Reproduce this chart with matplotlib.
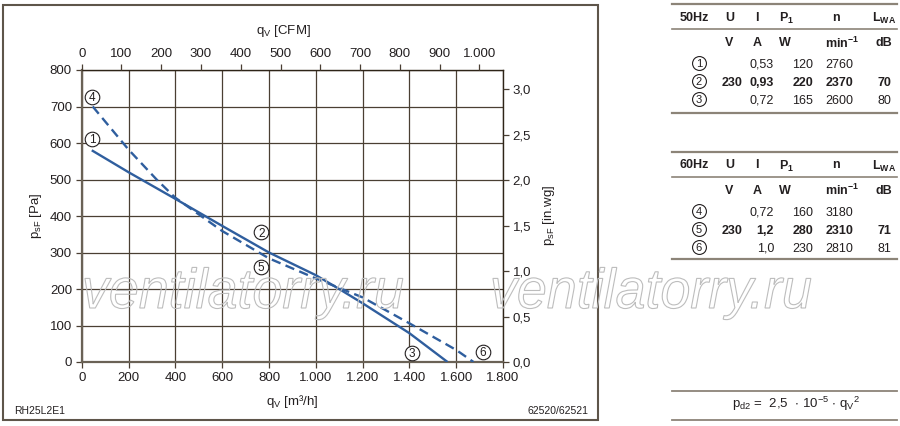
import matplotlib
matplotlib.use('Agg')
import matplotlib.pyplot as plt
from matplotlib.patches import Rectangle, PathPatch
from matplotlib.textpath import TextPath
from matplotlib.font_manager import FontProperties
from matplotlib.transforms import Affine2D

plt.rcParams['font.family'] = ['Liberation Sans', 'DejaVu Sans']
plt.rcParams['mathtext.default'] = 'regular'

# kennlinien
qv_50 = [43, 200, 400, 600, 800, 1000, 1100, 1200, 1400, 1563]
ps_50 = [580, 520, 447, 373, 300, 238, 200, 161, 79, 0]
qv_60 = [47, 200, 320, 400, 600, 800, 1000, 1200, 1400, 1600, 1674]
ps_60 = [700, 582, 500, 450, 359, 284, 229, 177, 106, 33, 0]

# betriebspunkte
point_ids = ['1', '2', '3', '4', '5', '6']
point_qv = [45, 768, 1410, 43, 767, 1715]
point_ps = [611, 355, 26, 727, 261, 27]

# achsen
x_ticks = [0, 200, 400, 600, 800, 1000, 1200, 1400, 1600, 1800]
x_labels = ['0', '200', '400', '600', '800', '1.000', '1.200', '1.400', '1.600', '1.800']
y_ticks = [0, 100, 200, 300, 400, 500, 600, 700, 800]
cfm_ticks = [0, 100, 200, 300, 400, 500, 600, 700, 800, 900, 1000]
cfm_labels = ['0', '100', '200', '300', '400', '500', '600', '700', '800', '900', '1.000']
inwg_ticks = [0.0, 0.5, 1.0, 1.5, 2.0, 2.5, 3.0]
inwg_labels = ['0,0', '0,5', '1,0', '1,5', '2,0', '2,5', '3,0']

# tabellen
u_50 = ['', '230', '']
i_50 = ['0,53', '0,93', '0,72']
p_50 = ['120', '220', '165']
n_50 = ['2760', '2370', '2600']
lwa_50 = ['', '70', '80']
u_60 = ['', '230', '']
i_60 = ['0,72', '1,2', '1,0']
p_60 = ['160', '280', '230']
n_60 = ['3180', '2310', '2810']
lwa_60 = ['', '71', '81']

blue = '#2f5e9e'
dark = '#2e2418'
ink = '#231f20'
fs = 9.5

fig = plt.figure(figsize=(9, 4.26), dpi=100)

# hintergrund-achse in pixelkoordinaten
bg = fig.add_axes([0, 0, 1, 1])
bg.set_xlim(0, 900)
bg.set_ylim(426, 0)
bg.axis('off')
bg.add_patch(Rectangle((3, 4.5), 595, 415.5, fill=False, ec='#5e554a', lw=1.5))

ax = fig.add_axes([81.7 / 900, 1 - 362 / 426, (503 - 81.7) / 900, 292 / 426])
ax.set_xlim(0, 1800)
ax.set_ylim(0, 800)
ax.set_xticks(x_ticks)
ax.set_xticklabels(x_labels)
ax.set_yticks(y_ticks)
ax.grid(True, color='#4a3f33', lw=0.9)
ax.set_axisbelow(True)
for s in ['left', 'bottom']:
    ax.spines[s].set_color('#6a6256')
    ax.spines[s].set_linewidth(1.6)
for s in ['top', 'right']:
    ax.spines[s].set_color(dark)
    ax.spines[s].set_linewidth(1.0)
ax.tick_params(direction='out', length=4, width=0.9, color='#4a3f33',
               labelsize=fs, labelcolor=ink, pad=3)

ax.plot(qv_50, ps_50, color=blue, lw=1.7, solid_capstyle='butt', zorder=3)
ax.plot(qv_60, ps_60, color=blue, lw=1.7, dashes=(4, 2.3), zorder=3)


def circled(a, x, y, txt, size, ms):
    # kreis mit ziffer, ziffer auf die kreismitte gesetzt
    a.plot(x, y, 'o', ms=ms, mfc='white', mec=ink, mew=0.8, zorder=5, clip_on=False)
    a.annotate(txt, (x, y), xytext=(0, -0.36 * size), textcoords='offset points',
               ha='center', va='baseline', fontsize=size, color=ink, zorder=6,
               annotation_clip=False)


for pid, x, y in zip(point_ids, point_qv, point_ps):
    circled(ax, x, y, pid, 8.5, 10.5)

# rechte achse in.wg
ax2 = ax.twinx()
ax2.set_ylim(0, 800 / 249.09)
ax2.set_yticks(inwg_ticks)
ax2.set_yticklabels(inwg_labels)
for s in ax2.spines.values():
    s.set_visible(False)
ax2.tick_params(direction='out', length=4, width=0.9, color='#4a3f33',
                labelsize=fs, labelcolor=ink, pad=3)

# obere achse CFM
ax3 = ax.twiny()
ax3.set_xlim(0, 1800 / 1.699)
ax3.set_xticks(cfm_ticks)
ax3.set_xticklabels(cfm_labels)
for s in ax3.spines.values():
    s.set_visible(False)
ax3.tick_params(direction='out', length=4, width=0.9, color='#4a3f33',
                labelsize=fs, labelcolor=ink, pad=3)

# achsenbeschriftungen
bg.text(283, 31, 'q$_V$ [CFM]', ha='center', va='center', fontsize=fs, color=ink)
bg.text(292, 402, 'q$_V$ [m\u00b3/h]', ha='center', va='center', fontsize=fs, color=ink)
bg.text(36, 216, 'p$_{sF}$ [Pa]', ha='center', va='center', rotation=90, fontsize=fs, color=ink)
bg.text(549, 215, 'p$_{sF}$ [in.wg]', ha='center', va='center', rotation=90, fontsize=fs, color=ink)
bg.text(14, 411, 'RH25L2E1', ha='left', va='center', fontsize=7.5, color=ink)
bg.text(588, 411, '62520/62521', ha='right', va='center', fontsize=7.5, color=ink)

# tabellen
line_col = '#8c8478'
x_circ = 699
x_right = [742, 774, 813, 853, 891]
head_x = [694, 730, 757, 787, 836, 884]
unit_x = [729, 757, 785, 842, 884]
unit_txt = ['V', 'A', 'W', 'min$^{-1}$', 'dB']
tfs = 9


def draw_table(top, hz, rows_y, bottom, cols, ids):
    bg.plot([672, 897], [top, top], color=line_col, lw=1.6)
    head_y = top + 12.5
    sep_y = top + 25
    unit_y = top + 37.5
    bg.plot([672, 897], [sep_y, sep_y], color=line_col, lw=1.2)
    bg.plot([672, 897], [bottom, bottom], color=line_col, lw=1.6)
    heads = [hz, 'U', 'I', 'P$_1$', 'n', 'L$_{WA}$']
    for hx, h in zip(head_x, heads):
        bg.text(hx, head_y, h, ha='center', va='center_baseline', fontsize=tfs,
                fontweight='bold', color=ink)
    for ux, u in zip(unit_x, unit_txt):
        bg.text(ux, unit_y, u, ha='center', va='center_baseline', fontsize=tfs,
                fontweight='bold', color=ink)
    for r, ry in enumerate(rows_y):
        circled(bg, x_circ, ry, ids[r], 8, 10)
        weight = 'bold' if r == 1 else 'normal'
        for cx, col in zip(x_right, cols):
            bg.annotate(col[r], (cx, ry), xytext=(0, -0.36 * tfs), textcoords='offset points',
                        ha='right', va='baseline', fontsize=tfs, fontweight=weight, color=ink)


draw_table(4, '50Hz', [63, 81, 99], 113, [u_50, i_50, p_50, n_50, lwa_50], ['1', '2', '3'])
draw_table(151.5, '60Hz', [211, 229, 247], 259, [u_60, i_60, p_60, n_60, lwa_60], ['4', '5', '6'])

# formel
bg.plot([672, 897], [390.5, 390.5], color=line_col, lw=1.3)
bg.plot([672, 897], [420, 420], color=line_col, lw=1.3)
bg.text(796, 404, 'p$_{d2}$ =  2,5  $\\cdot$ 10$^{-5}$ $\\cdot$ q$_V{}^2$', ha='center',
        va='center', fontsize=9.5, color=ink)

# wasserzeichen ueber dem plot
wm = fig.add_axes([0, 0, 1, 1], zorder=10)
wm.set_xlim(0, 900)
wm.set_ylim(426, 0)
wm.axis('off')
wm_prop = FontProperties(family='Liberation Sans', style='italic')
tp = TextPath((0, 0), 'ventilatorry.ru', size=1, prop=wm_prop)
for x0 in [82, 490]:
    path = Affine2D().scale(53.8, -56).translate(x0, 308).transform_path(tp)
    wm.add_patch(PathPatch(path, fc='none', ec='#bdbdbd', lw=0.8))

fig.savefig('out.png', dpi=100)
